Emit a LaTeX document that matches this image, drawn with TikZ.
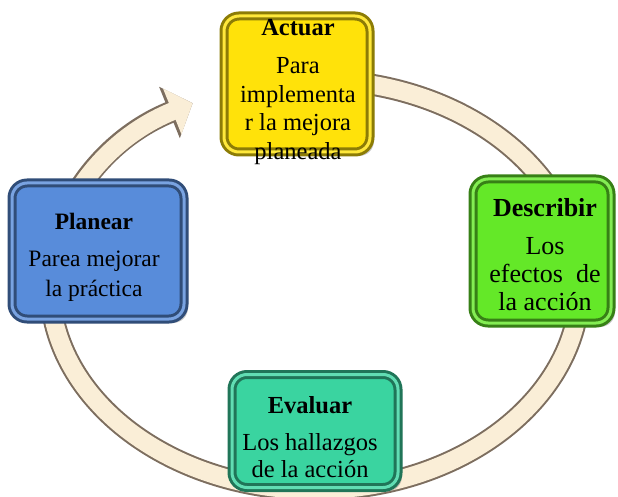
\documentclass[tikz,border=0pt]{standalone}
\usepackage{fontspec}
\setmainfont{Liberation Serif}
\usetikzlibrary{shadows,arrows.meta}

\definecolor{ringfill}{RGB}{250,238,215}
\definecolor{ringedge}{RGB}{125,110,95}
\definecolor{actuarcol}{RGB}{255,226,10}
\definecolor{planearcol}{RGB}{88,140,218}
\definecolor{describircol}{RGB}{100,232,40}
\definecolor{evaluarcol}{RGB}{58,212,160}

\tikzset{
  stage/.style={rounded corners=15pt, fill=#1, draw=#1!55!black, line width=3pt,
    double=#1!80!white, double distance=3pt,
    drop shadow={shadow xshift=4pt, shadow yshift=-4pt, opacity=0.45}},
  stagetext/.style={align=center, inner sep=0pt, text=black},
  ring/.style={draw=ringfill, line width=18pt,
    -{Triangle[width=48pt, length=22pt, fill=ringfill]},
    preaction={draw=ringedge, line width=22pt, -{Triangle[width=54pt, length=25pt]}}}
}

\begin{document}
\begin{tikzpicture}[x=1pt, y=-1pt]
  \useasboundingbox (0,0) rectangle (618,497);

  % ring with the arrow, behind the boxes
  \coordinate (ringC) at (315,285);
  \draw[ring] ([shift={(265:265 and 205)}]ringC)
    arc[start angle=265, end angle=602.5, x radius=265, y radius=205];

  % the four stages
  \node[stage=actuarcol, minimum width=146pt, minimum height=136pt] (actuar) at (297,84) {};
  \node[stagetext, font=\fontsize{24.5}{28.5}\selectfont] (actuarText) at (298,92)
    {\textbf{Actuar}\\[10pt]Para\\implementa\\r la mejora\\planeada};

  \node[stage=planearcol, minimum width=172pt, minimum height=136pt] (planear) at (98,251) {};
  \node[stagetext, font=\fontsize{23.5}{30}\selectfont] (planearText) at (94,257)
    {\textbf{Planear}\\[7pt]Parea mejorar\\la práctica};

  \node[stage=describircol, minimum width=138pt, minimum height=144pt] (describir) at (542,251) {};
  \node[stagetext, font=\fontsize{26}{28}\selectfont] (describirText) at (545,255)
    {\textbf{Describir}\\[10pt]Los\\efectos~ de\\la acción};

  \node[stage=evaluarcol, minimum width=166pt, minimum height=113pt] (evaluar) at (315,431) {};
  \node[stagetext, font=\fontsize{24.5}{27}\selectfont] (evaluarText) at (310,437)
    {\textbf{Evaluar}\\[10pt]Los hallazgos\\de la acción};
\end{tikzpicture}
\end{document}
